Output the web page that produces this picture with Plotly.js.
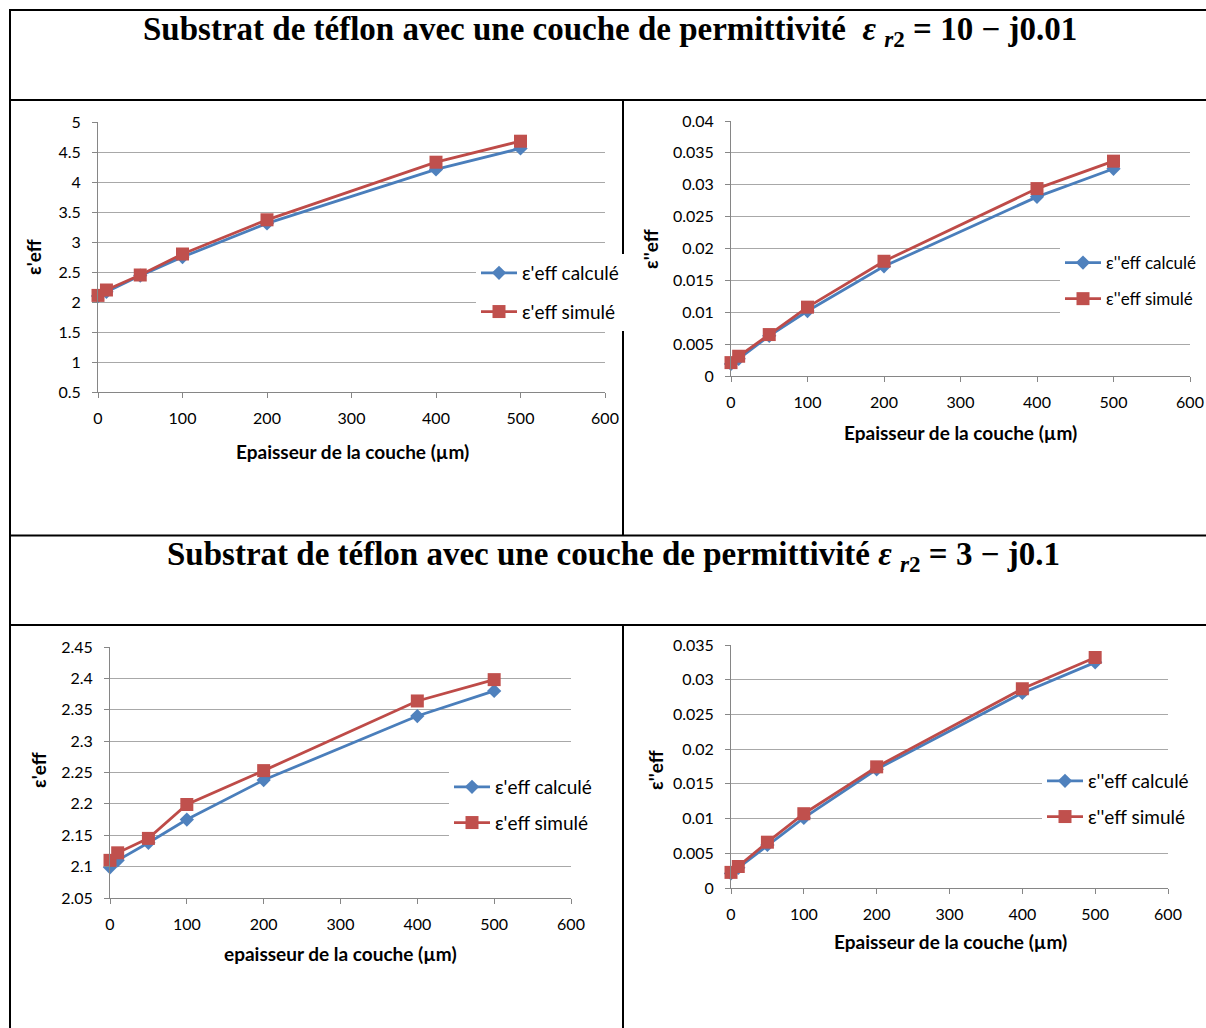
<!DOCTYPE html>
<html>
<head>
<meta charset="utf-8">
<script src="https://cdn.plot.ly/plotly-3.0.1.min.js"></script>
<style>
html,body{margin:0;padding:0;background:#fff;overflow:hidden;width:1206px;height:1028px;}
#chart{width:1206px;height:1028px;overflow:hidden;position:relative;}
</style>
</head>
<body>
<div id="chart"></div>
<script>
// ---- Data ----
const thickness = [0, 10, 50, 100, 200, 400, 500];

// Chart 1: layer eps_r2 = 10 - j0.01, real part
const epsReal1Calc = [2.10, 2.17, 2.44, 2.75, 3.31, 4.21, 4.56];
const epsReal1Sim  = [2.11, 2.20, 2.45, 2.80, 3.37, 4.33, 4.68];

// Chart 2: layer eps_r2 = 10 - j0.01, imaginary part
const epsImag1Calc = [0.0019, 0.0027, 0.0063, 0.0102, 0.0172, 0.0281, 0.0325];
const epsImag1Sim  = [0.0021, 0.0031, 0.0065, 0.0108, 0.0180, 0.0294, 0.0337];

// Chart 3: layer eps_r2 = 3 - j0.1, real part
const epsReal2Calc = [2.099, 2.110, 2.138, 2.175, 2.238, 2.340, 2.380];
const epsReal2Sim  = [2.110, 2.122, 2.145, 2.199, 2.253, 2.364, 2.398];

// Chart 4: layer eps_r2 = 3 - j0.1, imaginary part
const epsImag2Calc = [0.0021, 0.0029, 0.0062, 0.0101, 0.0171, 0.0281, 0.0325];
const epsImag2Sim  = [0.00225, 0.0031, 0.0066, 0.0107, 0.01745, 0.0287, 0.0332];

const legendCalcReal = "ε'eff calculé";
const legendSimReal  = "ε'eff simulé";
const legendCalcImag = "ε''eff calculé";
const legendSimImag  = "ε''eff simulé";

const title1 = "Substrat de téflon avec une couche de permittivité  <i>ε</i> <sub><i>r</i>2</sub> = 10 − j0.01";
const title2 = "Substrat de téflon avec une couche de permittivité <i>ε</i> <sub><i>r</i>2</sub> = 3 − j0.1";
const xTitleA = "Epaisseur de la couche (µm)";
const xTitleB = "epaisseur de la couche (µm)";
const yTitleReal = "ε'eff";
const yTitleImag = "ε''eff";

// ---- Layout helpers ----
const W = 1206, H = 1028;
const px = v => v / W;
const py = v => 1 - v / H;

const BLUE_LINE = '#4a7ebb', BLUE_MK = '#4f81bd';
const RED_LINE = '#be4b48', RED_MK = '#c0504d';
const FONT = 'Lato, "Open Sans", sans-serif';

function series(x, y, name, color, mk, symbol, size, xa, ya, legend, group) {
  return {
    x: x, y: y, name: name, type: 'scatter', mode: 'lines+markers',
    xaxis: xa, yaxis: ya, legend: legend, legendgroup: group,
    line: {color: color, width: 2.8},
    marker: {color: mk, symbol: symbol, size: size, line: {width: 0}},
    cliponaxis: false
  };
}

const data = [
  series(thickness, epsReal1Calc, legendCalcReal, BLUE_LINE, BLUE_MK, 'diamond', 11, 'x', 'y', 'legend', 'a1'),
  series(thickness, epsReal1Sim,  legendSimReal,  RED_LINE,  RED_MK,  'square', 13, 'x', 'y', 'legend', 'a2'),
  series(thickness, epsImag1Calc, legendCalcImag, BLUE_LINE, BLUE_MK, 'diamond', 11, 'x2', 'y2', 'legend2', 'b1'),
  series(thickness, epsImag1Sim,  legendSimImag,  RED_LINE,  RED_MK,  'square', 13, 'x2', 'y2', 'legend2', 'b2'),
  series(thickness, epsReal2Calc, legendCalcReal, BLUE_LINE, BLUE_MK, 'diamond', 11, 'x3', 'y3', 'legend3', 'c1'),
  series(thickness, epsReal2Sim,  legendSimReal,  RED_LINE,  RED_MK,  'square', 13, 'x3', 'y3', 'legend3', 'c2'),
  series(thickness, epsImag2Calc, legendCalcImag, BLUE_LINE, BLUE_MK, 'diamond', 11, 'x4', 'y4', 'legend4', 'd1'),
  series(thickness, epsImag2Sim,  legendSimImag,  RED_LINE,  RED_MK,  'square', 13, 'x4', 'y4', 'legend4', 'd2')
];

function xaxis(l, r, anchor) {
  return {
    domain: [px(l), px(r)], anchor: anchor, range: [0, 600], dtick: 100, tick0: 0,
    showgrid: false, zeroline: false, showline: true, linecolor: '#868686', linewidth: 1,
    ticks: 'outside', ticklen: 5, tickcolor: '#868686', ticklabelstandoff: 7,
    tickfont: {family: FONT, size: 16, color: '#000'}, fixedrange: true
  };
}
function yaxis(top, bottom, anchor, range, dtick) {
  return {
    domain: [py(bottom), py(top)], anchor: anchor, range: range, dtick: dtick, tick0: 0,
    showgrid: true, gridcolor: '#a8a8a8', gridwidth: 1, zeroline: false,
    showline: true, linecolor: '#868686', linewidth: 1,
    ticks: 'outside', ticklen: 5, tickcolor: '#868686', ticklabelstandoff: 8,
    tickfont: {family: FONT, size: 16, color: '#000'}, fixedrange: true
  };
}

function legend(xp, yp, gap, fs) {
  return {
    x: px(xp), y: py(yp), xanchor: 'left', yanchor: 'top',
    bgcolor: '#ffffff', borderwidth: 0, traceorder: 'grouped', tracegroupgap: gap,
    font: {family: FONT, size: fs, color: '#000'}, itemwidth: 36
  };
}

function label(text, x, y, size, angle, bold) {
  return {
    text: bold ? '<b>' + text + '</b>' : text, x: px(x), y: py(y), xref: 'paper', yref: 'paper',
    showarrow: false, xanchor: 'center', yanchor: 'middle', textangle: angle || 0,
    font: {family: FONT, size: size, color: '#000'}
  };
}

function titleAnn(text, x, y) {
  return {
    text: '<b>' + text + '</b>', x: px(x), y: py(y), xref: 'paper', yref: 'paper',
    showarrow: false, xanchor: 'center', yanchor: 'middle',
    font: {family: '"Liberation Serif", "Times New Roman", serif', size: 33, color: '#000'}
  };
}

function hline(y, x0, x1) {
  return {type: 'line', xref: 'paper', yref: 'paper', x0: px(x0), x1: px(x1), y0: py(y), y1: py(y),
          line: {color: '#000', width: 2}};
}
function vline(x, y0, y1) {
  return {type: 'line', xref: 'paper', yref: 'paper', x0: px(x), x1: px(x), y0: py(y0), y1: py(y1),
          line: {color: '#000', width: 2}};
}

const layout = {
  width: W, height: H, margin: {l: 0, r: 0, t: 0, b: 0, pad: 0},
  paper_bgcolor: '#ffffff', plot_bgcolor: '#ffffff', showlegend: true,
  font: {family: FONT, color: '#000'},
  xaxis: xaxis(98, 605, 'y'),
  yaxis: yaxis(122, 392, 'x', [0.5, 5], 0.5),
  xaxis2: xaxis(731, 1190, 'y2'),
  yaxis2: yaxis(121, 376, 'x2', [0, 0.04], 0.005),
  xaxis3: xaxis(110, 571, 'y3'),
  yaxis3: yaxis(647, 898, 'x3', [2.05, 2.45], 0.05),
  xaxis4: xaxis(731, 1168, 'y4'),
  yaxis4: yaxis(645, 888, 'x4', [0, 0.035], 0.005),
  legend: legend(476, 254, 11, 19),
  legend2: legend(1060, 245, 11, 17),
  legend3: legend(449, 768, 8, 19),
  legend4: legend(1042, 762, 8, 19),
  annotations: [
    titleAnn(title1, 610, 31),
    titleAnn(title2, 613, 556),
    label(xTitleA, 352, 451, 19, 0, true),
    label(yTitleReal, 33, 257, 19, -90, true),
    label(xTitleA, 960, 432, 19, 0, true),
    label(yTitleImag, 650, 249, 19, -90, true),
    label(xTitleB, 340, 953, 19, 0, true),
    label(yTitleReal, 38, 770, 19, -90, true),
    label(xTitleA, 950, 941, 19, 0, true),
    label(yTitleImag, 655, 770, 19, -90, true)
  ],
  shapes: [
    hline(10, 9, 1206),
    vline(10, 9, 1028),
    hline(100, 10, 1206),
    vline(623, 100, 535.5),
    hline(535.5, 10, 1206),
    hline(625, 10, 1206),
    vline(623, 625, 1028)
  ]
};

Plotly.newPlot('chart', data, layout, {displayModeBar: false, staticPlot: true});
</script>
</body>
</html>
